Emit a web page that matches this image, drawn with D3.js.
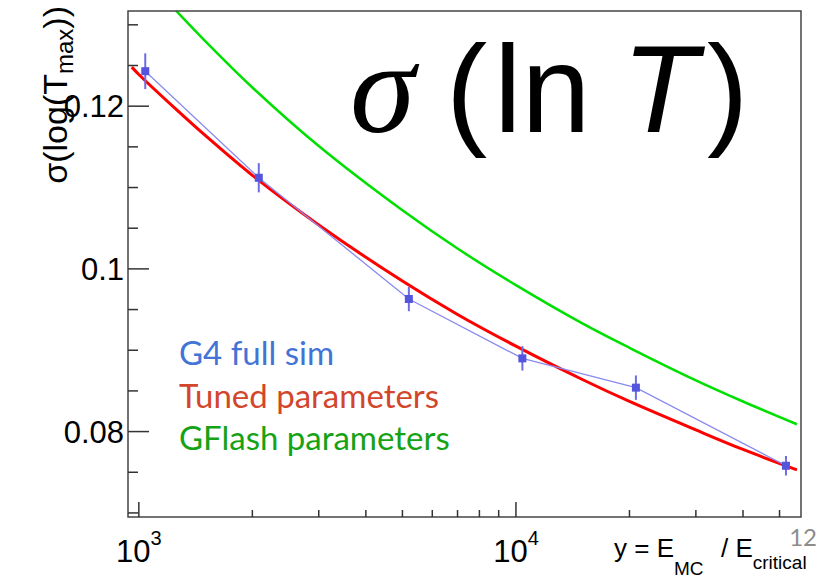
<!DOCTYPE html>
<html>
<head>
<meta charset="utf-8">
<script src="https://cdn.jsdelivr.net/npm/d3@7"></script>
<style>
  body { margin: 0; background: #fff; }
  svg { display: block; }
</style>
</head>
<body>
<script>
// G4 full sim points (y = E_MC / E_critical)
var energies = [1040, 2080, 5200, 10400, 20800, 52000];
var sigmaG4 = [0.1243, 0.1112, 0.0963, 0.0890, 0.0854, 0.0758];
var sigmaErr = [0.0022, 0.0018, 0.0015, 0.0015, 0.0015, 0.0012];

// curves
var tunedX = [958, 1000, 1250, 1500, 2000, 3000, 5000, 7000, 10000, 15000, 20000, 30000, 40000, 55600];
var tunedY = [0.1248, 0.1239, 0.1197, 0.1164, 0.1115, 0.1054, 0.0985, 0.0944, 0.0905, 0.0864, 0.0837, 0.0802, 0.0778, 0.0753];
var gflashX = [1200, 1500, 2000, 3000, 5000, 7000, 10000, 15000, 20000, 30000, 40000, 55600];
var gflashY = [0.1327, 0.1280, 0.1223, 0.1151, 0.1072, 0.1025, 0.0980, 0.0933, 0.0903, 0.0863, 0.0837, 0.0809];

var yMajor = [0.08, 0.1, 0.12];
var yMajorLabels = ["0.08", "0.1", "0.12"];
var yMinor = [0.07, 0.075, 0.085, 0.09, 0.095, 0.105, 0.11, 0.115, 0.125, 0.13];
var xMajor = [1000, 10000];
var xMajorExp = ["3", "4"];
var xMinor = [2000, 3000, 4000, 5000, 6000, 7000, 8000, 9000, 20000, 30000, 40000, 50000];

var legendItems = ["G4 full sim", "Tuned parameters", "GFlash parameters"];
var legendColors = ["#4473d6", "#d2462b", "#15a215"];

var width = 836, height = 583;
var frame = {left: 128, top: 11, right: 801, bottom: 517};
var sans = "'Liberation Sans', Arial, Helvetica, sans-serif";

var svg = d3.select("body").append("svg").attr("width", width).attr("height", height);

var x = d3.scaleLog().domain([936, 57000]).range([frame.left, frame.right]);
var y = d3.scaleLinear().domain([0.0695, 0.1317]).range([frame.bottom, frame.top]);

svg.append("clipPath").attr("id", "plotclip")
  .append("rect")
  .attr("x", frame.left).attr("y", frame.top)
  .attr("width", frame.right - frame.left).attr("height", frame.bottom - frame.top);

var plot = svg.append("g").attr("clip-path", "url(#plotclip)");

var curve = d3.line()
  .x(function(d){ return x(d[0]); })
  .y(function(d){ return y(d[1]); })
  .curve(d3.curveCatmullRom);

// GFlash curve
plot.append("path")
  .attr("d", curve(d3.zip(gflashX, gflashY)))
  .attr("fill", "none")
  .attr("stroke", "#00e000")
  .attr("stroke-width", 2.5);

// tuned curve
plot.append("path")
  .attr("d", curve(d3.zip(tunedX, tunedY)))
  .attr("fill", "none")
  .attr("stroke", "#ff0000")
  .attr("stroke-width", 3);

// G4 points: connecting line, error bars, markers
var pts = d3.zip(energies, sigmaG4, sigmaErr);

plot.append("path")
  .attr("d", d3.line().x(function(d){ return x(d[0]); }).y(function(d){ return y(d[1]); })(pts))
  .attr("fill", "none")
  .attr("stroke", "#8a8aee")
  .attr("stroke-width", 1.3);

plot.selectAll("line.err").data(pts).enter().append("line")
  .attr("class", "err")
  .attr("x1", function(d){ return x(d[0]); })
  .attr("x2", function(d){ return x(d[0]); })
  .attr("y1", function(d){ return y(d[1] - d[2]); })
  .attr("y2", function(d){ return y(d[1] + d[2]); })
  .attr("stroke", "#6c6ce4")
  .attr("stroke-width", 2);

plot.selectAll("rect.pt").data(pts).enter().append("rect")
  .attr("class", "pt")
  .attr("x", function(d){ return x(d[0]) - 4; })
  .attr("y", function(d){ return y(d[1]) - 4; })
  .attr("width", 8).attr("height", 8)
  .attr("fill", "#5454dc");

// frame
svg.append("rect")
  .attr("x", frame.left).attr("y", frame.top)
  .attr("width", frame.right - frame.left).attr("height", frame.bottom - frame.top)
  .attr("fill", "none")
  .attr("stroke", "#444")
  .attr("stroke-width", 1.5);

// y ticks (inside)
svg.selectAll("line.ymaj").data(yMajor).enter().append("line")
  .attr("x1", frame.left).attr("x2", frame.left + 21)
  .attr("y1", function(d){ return y(d); }).attr("y2", function(d){ return y(d); })
  .attr("stroke", "#333").attr("stroke-width", 1.5);
svg.selectAll("line.ymin").data(yMinor).enter().append("line")
  .attr("x1", frame.left).attr("x2", frame.left + 10)
  .attr("y1", function(d){ return y(d); }).attr("y2", function(d){ return y(d); })
  .attr("stroke", "#333").attr("stroke-width", 1.5);

svg.selectAll("text.ylab").data(yMajor).enter().append("text")
  .attr("x", frame.left - 4)
  .attr("y", function(d){ return y(d) + 11; })
  .attr("text-anchor", "end")
  .attr("font-family", sans)
  .attr("font-size", 31)
  .text(function(d, i){ return yMajorLabels[i]; });

// x ticks (inside)
svg.selectAll("line.xmaj").data(xMajor).enter().append("line")
  .attr("x1", function(d){ return x(d); }).attr("x2", function(d){ return x(d); })
  .attr("y1", frame.bottom).attr("y2", frame.bottom - 15)
  .attr("stroke", "#333").attr("stroke-width", 1.5);
svg.selectAll("line.xmin").data(xMinor).enter().append("line")
  .attr("x1", function(d){ return x(d); }).attr("x2", function(d){ return x(d); })
  .attr("y1", frame.bottom).attr("y2", frame.bottom - 7)
  .attr("stroke", "#333").attr("stroke-width", 1.5);

var xl = svg.selectAll("text.xlab").data(xMajor).enter().append("text")
  .attr("x", function(d){ return x(d); })
  .attr("y", 562)
  .attr("text-anchor", "middle")
  .attr("font-family", sans)
  .attr("font-size", 31);
xl.append("tspan").text("10");
xl.append("tspan").attr("dy", -17).attr("font-size", 20).text(function(d, i){ return xMajorExp[i]; });

// x title
var xt = svg.append("text")
  .attr("y", 557)
  .attr("font-family", sans)
  .attr("font-size", 26);
xt.append("tspan").attr("x", 614).text("y = E");
xt.append("tspan").attr("dy", 18).attr("font-size", 19).text("MC");
xt.append("tspan").attr("x", 721).attr("dy", -18).text("/ E");
xt.append("tspan").attr("dy", 12).attr("font-size", 19).text("critical");

// y title
var yt = svg.append("text")
  .attr("transform", "translate(67,6) rotate(-90)")
  .attr("text-anchor", "end")
  .attr("font-family", sans)
  .attr("font-size", 34);
yt.append("tspan").text("σ(log(T");
yt.append("tspan").attr("dy", 6).attr("font-size", 24).text("max");
yt.append("tspan").attr("dy", -6).text("))");

// big annotation
var big = svg.append("g").attr("fill", "#000");
big.append("text").attr("x", 350).attr("y", 132)
  .attr("font-family", "'Liberation Serif', serif").attr("font-style", "italic").attr("font-size", 132)
  .text("σ");
big.append("text").attr("x", 446).attr("y", 132)
  .attr("font-family", sans).attr("font-size", 124)
  .text("(");
big.append("text").attr("x", 494).attr("y", 132)
  .attr("font-family", sans).attr("font-size", 124)
  .text("ln");
big.append("text").attr("x", 622).attr("y", 132)
  .attr("font-family", sans).attr("font-style", "italic").attr("font-size", 124)
  .text("T");
big.append("text").attr("x", 707).attr("y", 132)
  .attr("font-family", sans).attr("font-size", 124)
  .text(")");

// legend text
svg.selectAll("text.leg").data(legendItems).enter().append("text")
  .attr("class", "leg")
  .attr("x", 179)
  .attr("y", function(d, i){ return 365 + i * 42.5; })
  .attr("font-family", "Lato, 'Open Sans', sans-serif")
  .attr("font-size", 33)
  .attr("fill", function(d, i){ return legendColors[i]; })
  .text(function(d){ return d; });

// slide number
svg.append("text")
  .attr("x", 817).attr("y", 546)
  .attr("text-anchor", "end")
  .attr("font-family", "Lato, 'Open Sans', sans-serif")
  .attr("font-size", 24)
  .attr("fill", "#8c8c8c")
  .text("12");
</script>
</body>
</html>
